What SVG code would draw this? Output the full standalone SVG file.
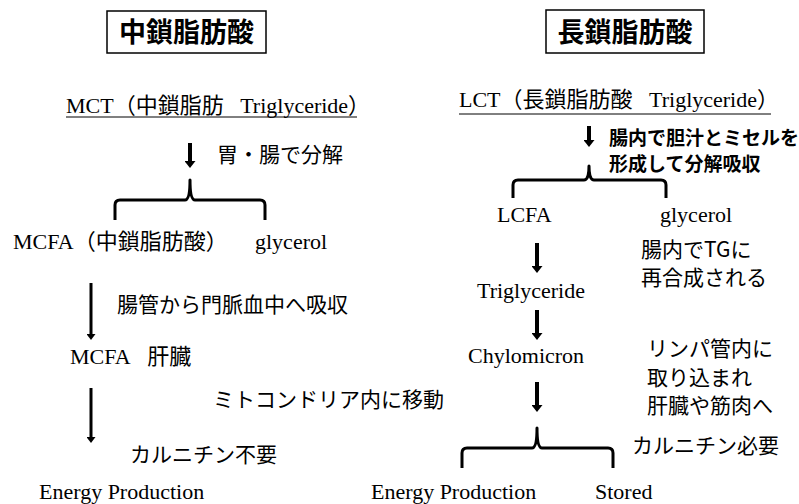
<svg xmlns="http://www.w3.org/2000/svg" width="799" height="504" viewBox="0 0 799 504">
<defs>
<style>
.bg{fill:#fff}
.ttl{font-family:"Noto Sans CJK JP",sans-serif;font-weight:bold;font-size:27px;fill:#000}
.box{fill:#fff;stroke:#000;stroke-width:1.5}
.ser{font-family:"Liberation Serif","Noto Sans CJK JP",serif;font-size:22px;fill:#000}
.jp{font-family:"Noto Sans CJK JP",sans-serif;font-size:21px;fill:#000}
.jpb{font-family:"Noto Sans CJK JP",sans-serif;font-weight:bold;font-size:19px;fill:#000}
.ul{stroke:#000;stroke-width:1}
.arr{stroke:#000;stroke-width:4;fill:none}
.arr2{stroke:#000;stroke-width:3;fill:none}
.brace{stroke:#000;stroke-width:3;fill:none;stroke-linejoin:round}
</style>
<marker id="ah" markerUnits="userSpaceOnUse" markerWidth="7" markerHeight="11" viewBox="0 0 7 11" refX="0" refY="5.5" orient="auto">
<path d="M0,0 L7,5.5 L0,11 z" fill="#000"/>
</marker>
<marker id="ah2" markerUnits="userSpaceOnUse" markerWidth="6" markerHeight="9" viewBox="0 0 6 9" refX="0" refY="4.5" orient="auto">
<path d="M0,0 L6,4.5 L0,9 z" fill="#000"/>
</marker>
</defs>
<rect class="bg" width="799" height="504"/>

<g id="title-mct">
<rect class="box" x="107" y="11" width="159" height="42"/>
<text class="ttl" x="186.5" y="42" text-anchor="middle">中鎖脂肪酸</text>
</g>
<g id="title-lct">
<rect class="box" x="546" y="10" width="158" height="43"/>
<text class="ttl" x="625" y="42" text-anchor="middle">長鎖脂肪酸</text>
</g>

<g id="mct">
<text class="ser" x="66" y="113">MCT（中鎖脂肪&#160;&#160;&#160;Triglyceride）</text>
<line class="ul" x1="66" y1="117" x2="357" y2="117"/>
</g>
<g id="mcfa">
<text class="ser" x="13" y="249">MCFA（中鎖脂肪酸）</text>
</g>
<g id="glycerol-m">
<text class="ser" x="255" y="249">glycerol</text>
</g>
<g id="mcfa-liver">
<text class="ser" x="70" y="364">MCFA&#160;&#160;&#160;肝臓</text>
</g>
<g id="energy-m">
<text class="ser" x="39" y="499">Energy Production</text>
</g>

<g id="lct">
<text class="ser" x="459" y="107">LCT（長鎖脂肪酸&#160;&#160;&#160;Triglyceride）</text>
<line class="ul" x1="459" y1="114" x2="771" y2="114"/>
</g>
<g id="lcfa">
<text class="ser" x="497" y="222">LCFA</text>
</g>
<g id="glycerol-l">
<text class="ser" x="660" y="222">glycerol</text>
</g>
<g id="triglyceride">
<text class="ser" x="477" y="298">Triglyceride</text>
</g>
<g id="chylomicron">
<text class="ser" x="468" y="363">Chylomicron</text>
</g>
<g id="energy-l">
<text class="ser" x="371" y="499">Energy Production</text>
</g>
<g id="stored">
<text class="ser" x="595" y="499">Stored</text>
</g>

<g id="labels">
<text class="jp" x="217" y="162">胃・腸で分解</text>
<text class="jp" x="117" y="312">腸管から門脈血中へ吸収</text>
<text class="jp" x="213" y="407">ミトコンドリア内に移動</text>
<text class="jp" x="130" y="462">カルニチン不要</text>
<text class="jpb" x="609" y="145">腸内で胆汁とミセルを</text>
<text class="jpb" x="609" y="171">形成して分解吸収</text>
<text class="jp" x="641" y="257">腸内でTGに</text>
<text class="jp" x="641" y="285">再合成される</text>
<text class="jp" x="647" y="356">リンパ管内に</text>
<text class="jp" x="647" y="384.5">取り込まれ</text>
<text class="jp" x="647" y="413">肝臓や筋肉へ</text>
<text class="jp" x="632" y="453">カルニチン必要</text>
</g>

<g id="connectors">
<line class="arr" x1="190" y1="143" x2="190" y2="161" marker-end="url(#ah)"/>
<path class="brace" d="M115,220 L115,205 Q115,200 120,200 L185,200 Q190,200 190,180 Q190,200 195,200 L260,200 Q265,200 265,205 L265,220"/>
<line class="arr2" x1="91" y1="283" x2="91" y2="334" marker-end="url(#ah2)"/>
<line class="arr2" x1="91" y1="388" x2="91" y2="437" marker-end="url(#ah2)"/>

<line class="arr" x1="589" y1="126" x2="589" y2="140" marker-end="url(#ah)"/>
<path class="brace" d="M513,198 L513,185 Q513,180 518,180 L584,180 Q589,180 589,166 Q589,180 594,180 L661,180 Q666,180 666,185 L666,198"/>
<line class="arr" x1="537" y1="243" x2="537" y2="266" marker-end="url(#ah)"/>
<line class="arr" x1="537" y1="310" x2="537" y2="333" marker-end="url(#ah)"/>
<line class="arr" x1="537" y1="382" x2="537" y2="405" marker-end="url(#ah)"/>
<path class="brace" d="M462,468 L462,453 Q462,448 467,448 L532,448 Q537,448 537,428 Q537,448 542,448 L608,448 Q613,448 613,453 L613,468"/>
</g>
</svg>
